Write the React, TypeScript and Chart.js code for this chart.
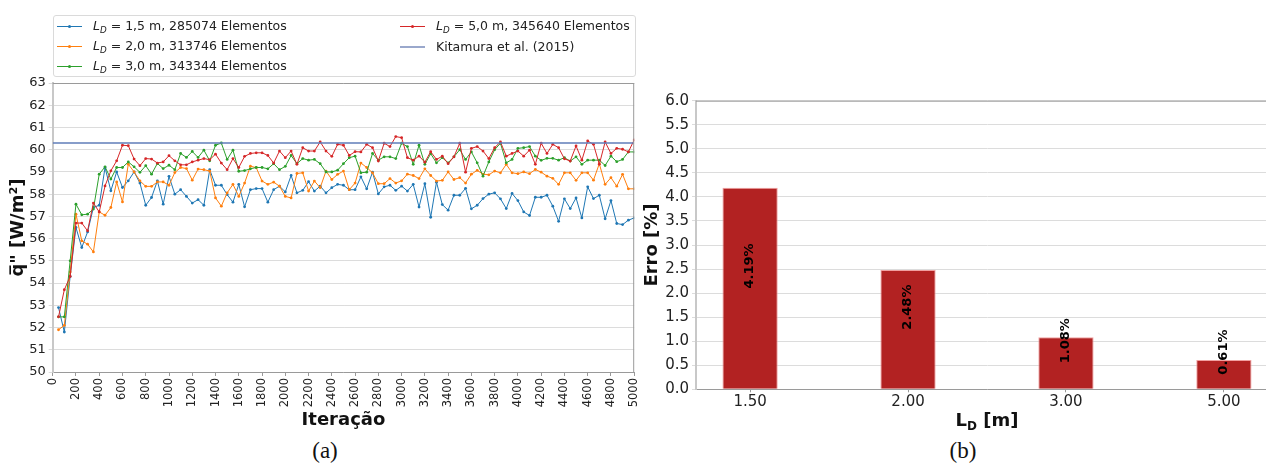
import React, { useEffect, useRef } from 'react';
import { Chart, registerables } from 'chart.js';

Chart.register(...registerables);
Chart.defaults.font.family = "'DejaVu Sans', sans-serif";
Chart.defaults.color = '#222';

// ---------- Data: (a) convergence of mean heat flux ----------
const ITERATIONS = [
  50, 100, 150, 200, 250, 300, 350, 400, 450, 500,
  550, 600, 650, 700, 750, 800, 850, 900, 950, 1000,
  1050, 1100, 1150, 1200, 1250, 1300, 1350, 1400, 1450, 1500,
  1550, 1600, 1650, 1700, 1750, 1800, 1850, 1900, 1950, 2000,
  2050, 2100, 2150, 2200, 2250, 2300, 2350, 2400, 2450, 2500,
  2550, 2600, 2650, 2700, 2750, 2800, 2850, 2900, 2950, 3000,
  3050, 3100, 3150, 3200, 3250, 3300, 3350, 3400, 3450, 3500,
  3550, 3600, 3650, 3700, 3750, 3800, 3850, 3900, 3950, 4000,
  4050, 4100, 4150, 4200, 4250, 4300, 4350, 4400, 4450, 4500,
  4550, 4600, 4650, 4700, 4750, 4800, 4850, 4900, 4950, 5000,
];

const Q_LD15 = [
  52.9, 51.8, 54.3, 56.5, 55.6, 56.3, 57.4, 57.5, 59.2, 58.15,
  59.0, 58.3, 58.6, 59.0, 58.5, 57.5, 57.85, 58.6, 57.55, 58.8,
  58.0, 58.2, 57.9, 57.6, 57.75, 57.5, 59.1, 58.4, 58.4, 57.98,
  57.64, 58.44, 57.43, 58.2, 58.25, 58.25, 57.64, 58.2, 58.36, 58.1,
  58.84, 58.06, 58.17, 58.56, 58.14, 58.36, 58.06, 58.29, 58.44, 58.4,
  58.2, 58.2, 58.78, 58.24, 58.99, 58.01, 58.33, 58.4, 58.17, 58.36,
  58.14, 58.44, 57.42, 58.47, 56.96, 58.54, 57.53, 57.28, 57.95, 57.95,
  58.26, 57.34, 57.5, 57.8, 58.0, 58.06, 57.79, 57.35, 58.03, 57.71,
  57.2, 57.04, 57.86, 57.86, 57.95, 57.46, 56.78, 57.79, 57.35, 57.83,
  56.93, 58.33, 57.8, 57.95, 56.89, 57.71, 56.68, 56.63, 56.83, 56.93,
];

const Q_LD20 = [
  51.9, 52.1, 54.5, 57.1, 55.9, 55.75, 55.4, 57.2, 57.05, 57.4,
  58.55, 57.65, 59.35, 59.0, 58.6, 58.35, 58.35, 58.55, 58.55, 58.4,
  58.97, 59.2, 59.15, 58.63, 59.13, 59.1, 59.04, 57.83, 57.46, 58.06,
  58.44, 57.9, 58.5, 59.26, 59.19, 58.59, 58.44, 58.54, 58.36, 57.9,
  57.83, 58.93, 58.96, 58.14, 58.59, 58.29, 59.04, 58.66, 58.89, 59.04,
  58.2, 58.5, 59.4, 59.2, 58.96, 58.47, 58.47, 58.7, 58.5, 58.6,
  58.9, 58.84, 58.7, 59.14, 58.84, 58.59, 58.62, 59.0, 58.66, 58.74,
  58.5, 58.9, 59.07, 58.9, 58.87, 59.04, 58.96, 59.34, 58.96, 58.92,
  59.0, 58.92, 59.11, 58.99, 58.81, 58.71, 58.44, 58.96, 58.96, 58.62,
  58.96, 58.96, 58.63, 59.37, 58.44, 58.74, 58.36, 58.89, 58.24, 58.24,
];

const Q_LD30 = [
  52.48, 52.48, 55.0, 57.55, 57.07, 57.1, 57.33, 58.9, 59.23, 58.68,
  59.2, 59.2, 59.45, 59.23, 58.98, 59.28, 58.9, 59.38, 59.15, 59.3,
  59.1, 59.83, 59.65, 59.92, 59.65, 59.98, 59.5, 60.2, 60.3, 59.56,
  59.98, 59.03, 59.06, 59.14, 59.2, 59.2, 59.14, 59.37, 59.1, 59.25,
  59.74, 59.37, 59.6, 59.53, 59.56, 59.37, 59.0, 59.0, 59.08, 59.37,
  59.64, 59.71, 58.96, 58.99, 59.83, 59.53, 59.68, 59.68, 59.6, 60.29,
  60.14, 59.34, 60.2, 59.34, 59.82, 59.41, 59.64, 59.41, 59.68, 60.0,
  59.56, 59.9, 59.41, 58.81, 59.45, 60.0, 60.29, 59.41, 59.56, 60.06,
  60.09, 60.14, 59.71, 59.52, 59.61, 59.61, 59.53, 59.64, 59.49, 59.68,
  59.34, 59.53, 59.53, 59.53, 59.29, 59.71, 59.46, 59.56, 59.9, 59.9,
];

const Q_LD50 = [
  52.48, 53.7, 54.3, 56.7, 56.7, 56.35, 57.6, 57.2, 58.37, 59.05,
  59.5, 60.2, 60.18, 59.58, 59.28, 59.6, 59.58, 59.4, 59.45, 59.73,
  59.5, 59.32, 59.32, 59.45, 59.53, 59.6, 59.55, 59.8, 59.4, 59.1,
  59.6, 59.2, 59.7, 59.83, 59.86, 59.86, 59.74, 59.4, 59.94, 59.64,
  59.94, 59.34, 60.09, 59.94, 59.94, 60.35, 59.94, 59.7, 60.24, 60.2,
  59.74, 59.91, 59.9, 60.24, 60.09, 59.49, 60.29, 60.14, 60.59, 60.54,
  59.64, 59.53, 59.71, 59.44, 59.91, 59.56, 59.71, 59.37, 59.68, 60.29,
  58.99, 60.06, 60.14, 59.94, 59.6, 60.09, 60.35, 59.71, 59.83, 59.94,
  59.71, 59.98, 59.34, 60.29, 59.83, 60.24, 60.09, 59.59, 59.49, 60.17,
  59.53, 60.39, 60.24, 59.34, 60.35, 59.83, 60.06, 60.02, 59.9, 60.44,
];

const KITAMURA_Q = 60.3;
const X_MIN = 0;
const X_MAX = 5000;
const X_STEP = 200;
const Y_MIN = 50;
const Y_MAX = 63;

const SERIES_VALUES = [Q_LD15, Q_LD20, Q_LD30, Q_LD50];
const SERIES_LD = ['1,5', '2,0', '3,0', '5,0'];
const SERIES_ELEMENTS = ['285074', '313746', '343344', '345640'];
const SERIES_COLORS = ['#1f77b4', '#ff7f0e', '#2ca02c', '#d62728'];
const KITAMURA_LABEL = 'Kitamura et al. (2015)';
const KITAMURA_COLOR = '#5f7db8';

// ---------- Data: (b) error per domain length ----------
const LD_LABELS = ['1.50', '2.00', '3.00', '5.00'];
const ERRO = [4.19, 2.48, 1.08, 0.61];

const FONT = "'DejaVu Sans', sans-serif";

function framePlugin(drawRight: boolean) {
  return {
    id: 'frame' + (drawRight ? 'R' : 'N'),
    afterDraw(chart: any) {
      const { ctx, chartArea: a } = chart;
      ctx.save();
      ctx.strokeStyle = '#9a9a9a';
      ctx.lineWidth = 1;
      ctx.beginPath();
      ctx.moveTo(a.left, a.top + 0.5);
      ctx.lineTo(a.right, a.top + 0.5);
      if (drawRight) {
        ctx.moveTo(a.right - 0.5, a.top);
        ctx.lineTo(a.right - 0.5, a.bottom);
      }
      ctx.stroke();
      ctx.restore();
    },
  };
}

const barLabelPlugin = {
  id: 'barLabels',
  afterDatasetsDraw(chart: any) {
    const { ctx } = chart;
    const meta = chart.getDatasetMeta(0);
    const yScale = chart.scales.y;
    ctx.save();
    ctx.fillStyle = '#000';
    ctx.font = `bold 13px ${FONT}`;
    ctx.textAlign = 'left';
    ctx.textBaseline = 'middle';
    meta.data.forEach((bar: any, i: number) => {
      const v = ERRO[i];
      ctx.save();
      ctx.translate(bar.x, yScale.getPixelForValue(v / 2));
      ctx.rotate(-Math.PI / 2);
      ctx.fillText(v.toFixed(2) + '%', 0, 0);
      ctx.restore();
    });
    ctx.restore();
  },
};

const ldTitlePlugin = {
  id: 'ldTitle',
  afterDraw(chart: any) {
    const { ctx } = chart;
    const xs = chart.scales.x;
    const cx = xs.getPixelForValue((LD_LABELS.length - 1) / 2);
    const y = chart.height - 11;
    ctx.save();
    ctx.fillStyle = '#111';
    ctx.textBaseline = 'alphabetic';
    ctx.textAlign = 'left';
    const big = `bold 18px ${FONT}`;
    const small = `bold 12px ${FONT}`;
    ctx.font = big;
    const wL = ctx.measureText('L').width;
    const wRest = ctx.measureText(' [m]').width;
    ctx.font = small;
    const wD = ctx.measureText('D').width;
    const total = wL + wD + wRest;
    let x = cx - total / 2;
    const base = y + 6;
    ctx.font = big;
    ctx.fillText('L', x, base);
    x += wL;
    ctx.font = small;
    ctx.fillText('D', x, base + 4);
    x += wD;
    ctx.font = big;
    ctx.fillText(' [m]', x, base);
    ctx.restore();
  },
};

function LegendLabel({ ld, el }: { ld: string; el: string }) {
  return (
    <span>
      <i>L</i>
      <sub style={{ fontSize: '70%', fontStyle: 'italic', verticalAlign: '-3px' }}>D</sub>
      {` = ${ld} m, ${el} Elementos`}
    </span>
  );
}

function LegendSample({ color, marker, width }: { color: string; marker: boolean; width: number }) {
  return (
    <span style={{ position: 'relative', display: 'inline-block', width: 25, height: 14, marginRight: 11 }}>
      <span style={{ position: 'absolute', left: 0, right: 0, top: 6.5, height: width, background: color }} />
      {marker && (
        <span style={{ position: 'absolute', left: 11, top: 5.5, width: 3, height: 3, borderRadius: '50%', background: color }} />
      )}
    </span>
  );
}

export default function App() {
  const leftRef = useRef<HTMLCanvasElement>(null);
  const rightRef = useRef<HTMLCanvasElement>(null);

  useEffect(() => {
    const lineDatasets: any[] = SERIES_VALUES.map((vals, si) => ({
      label: `L_D = ${SERIES_LD[si]} m, ${SERIES_ELEMENTS[si]} Elementos`,
      data: ITERATIONS.map((it, i) => ({ x: it, y: vals[i] })),
      borderColor: SERIES_COLORS[si],
      backgroundColor: SERIES_COLORS[si],
      borderWidth: 1,
      pointRadius: 1.4,
      pointBorderWidth: 0,
      pointBackgroundColor: SERIES_COLORS[si],
      tension: 0,
      order: SERIES_VALUES.length - si,
    }));
    lineDatasets.push({
      label: KITAMURA_LABEL,
      data: [
        { x: X_MIN, y: KITAMURA_Q },
        { x: X_MAX, y: KITAMURA_Q },
      ],
      borderColor: KITAMURA_COLOR,
      borderWidth: 1.3,
      pointRadius: 0,
      order: 0,
    });

    const left = new Chart(leftRef.current!, {
      type: 'line',
      data: { datasets: lineDatasets },
      options: {
        animation: false,
        responsive: false,
        maintainAspectRatio: false,
        layout: { padding: { top: 13, right: 14.5, left: 0, bottom: 0 } },
        plugins: { legend: { display: false }, tooltip: { enabled: false } },
        scales: {
          x: {
            type: 'linear',
            min: X_MIN,
            max: X_MAX,
            ticks: {
              stepSize: X_STEP,
              minRotation: 90,
              maxRotation: 90,
              autoSkip: false,
              font: { size: 11.5 },
              color: '#222',
              padding: 2,
              callback: (v: any) => String(v),
            },
            grid: { drawOnChartArea: false, tickLength: 4, color: '#999' },
            border: { color: '#9a9a9a', width: 1 },
            title: {
              display: true,
              text: 'Iteração',
              font: { size: 18, weight: 'bold' },
              color: '#111',
              padding: 0,
            },
            afterFit: (s: any) => {
              s.height = 59;
            },
          },
          y: {
            min: Y_MIN,
            max: Y_MAX,
            ticks: { stepSize: 1, font: { size: 13 }, color: '#222', padding: 3 },
            grid: { color: '#dcdcdc', tickLength: 4 },
            border: { color: '#c8c8c8', width: 2 },
            title: {
              display: true,
              text: 'q\u0305" [W/m²]',
              font: { size: 18, weight: 'bold' },
              color: '#111',
              padding: { top: 8, bottom: 0 },
            },
            afterFit: (s: any) => {
              s.width = 52.7;
            },
          },
        },
      } as any,
      plugins: [framePlugin(true)],
    });

    const right = new Chart(rightRef.current!, {
      type: 'bar',
      data: {
        datasets: [
          {
            label: 'Erro',
            data: ERRO.map((v, i) => ({ x: i, y: v })),
            backgroundColor: '#b22222',
            borderColor: 'rgba(240,150,150,0.9)',
            borderWidth: 1,
            categoryPercentage: 1,
            barPercentage: 0.35,
          },
        ],
      },
      options: {
        animation: false,
        responsive: false,
        maintainAspectRatio: false,
        layout: { padding: { top: 12.7, right: 0, left: 0, bottom: 0 } },
        plugins: { legend: { display: false }, tooltip: { enabled: false } },
        scales: {
          x: {
            type: 'linear',
            offset: false,
            min: -0.3425,
            max: LD_LABELS.length - 1 + 0.3425,
            afterBuildTicks: (axis: any) => {
              axis.ticks = LD_LABELS.map((_, i) => ({ value: i }));
            },
            ticks: {
              autoSkip: false,
              maxRotation: 0,
              font: { size: 15 },
              color: '#222',
              padding: 1,
              callback: (v: any) => LD_LABELS[Math.round(v)] ?? '',
            },
            grid: { drawOnChartArea: false, offset: false, tickLength: 3, color: '#999' },
            border: { color: '#9a9a9a', width: 1 },
            afterFit: (s: any) => {
              s.height = 41.7;
            },
          },
          y: {
            min: 0,
            max: 6,
            ticks: {
              stepSize: 0.5,
              font: { size: 15 },
              color: '#222',
              padding: 3,
              callback: (v: any) => Number(v).toFixed(1),
            },
            grid: { color: '#dcdcdc', tickLength: 4 },
            border: { color: '#c8c8c8', width: 2 },
            title: {
              display: true,
              text: 'Erro [%]',
              font: { size: 18, weight: 'bold' },
              color: '#111',
              padding: { top: 2, bottom: 0 },
            },
            afterFit: (s: any) => {
              s.width = 56;
            },
          },
        },
      } as any,
      plugins: [framePlugin(false), barLabelPlugin, ldTitlePlugin],
    });

    return () => {
      left.destroy();
      right.destroy();
    };
  }, []);

  const legendRows = [
    { col: 0, row: 0, si: 0 },
    { col: 0, row: 1, si: 1 },
    { col: 0, row: 2, si: 2 },
    { col: 1, row: 0, si: 3 },
  ];

  return (
    <div
      style={{
        position: 'absolute',
        left: 0,
        top: 0,
        width: 1266,
        height: 466,
        overflow: 'hidden',
        background: '#fff',
        fontFamily: FONT,
      }}
    >
      <canvas
        ref={leftRef}
        width={650}
        height={361}
        style={{ position: 'absolute', left: 0, top: 70, width: 650, height: 361 }}
      />
      <canvas
        ref={rightRef}
        width={638}
        height={343}
        style={{ position: 'absolute', left: 640, top: 88, width: 638, height: 343 }}
      />
      <div
        style={{
          position: 'absolute',
          left: 53,
          top: 15,
          width: 583,
          height: 62,
          border: '1px solid #dadada',
          borderRadius: 3,
          boxSizing: 'border-box',
          background: 'rgba(255,255,255,0.8)',
          fontSize: 12.5,
          color: '#222',
        }}
      >
        {legendRows.map((r) => (
          <div
            key={r.si}
            style={{
              position: 'absolute',
              left: r.col === 0 ? 3 : 346,
              top: 3 + r.row * 20,
              height: 14,
              display: 'flex',
              alignItems: 'center',
              whiteSpace: 'nowrap',
            }}
          >
            <LegendSample color={SERIES_COLORS[r.si]} marker={true} width={1.2} />
            <LegendLabel ld={SERIES_LD[r.si]} el={SERIES_ELEMENTS[r.si]} />
          </div>
        ))}
        <div
          style={{
            position: 'absolute',
            left: 346,
            top: 23,
            height: 14,
            display: 'flex',
            alignItems: 'center',
            whiteSpace: 'nowrap',
          }}
        >
          <LegendSample color="#9aa8cc" marker={false} width={2.5} />
          <span>{KITAMURA_LABEL}</span>
        </div>
      </div>
      <div
        style={{
          position: 'absolute',
          left: 0,
          width: 650,
          top: 438,
          textAlign: 'center',
          fontFamily: "'Liberation Serif', serif",
          fontSize: 23,
          color: '#111',
        }}
      >
        (a)
      </div>
      <div
        style={{
          position: 'absolute',
          left: 913,
          width: 100,
          top: 438,
          textAlign: 'center',
          fontFamily: "'Liberation Serif', serif",
          fontSize: 23,
          color: '#111',
        }}
      >
        (b)
      </div>
    </div>
  );
}
